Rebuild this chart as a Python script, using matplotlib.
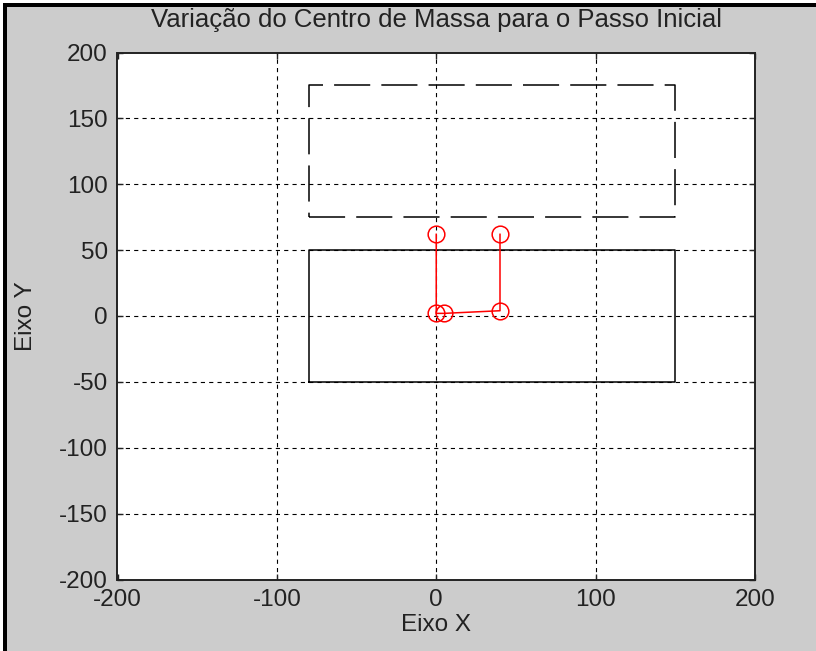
import matplotlib
matplotlib.use("Agg")
import matplotlib.pyplot as plt
from matplotlib.patches import Rectangle

plt.rcParams['font.family'] = ['Liberation Sans', 'DejaVu Sans']
plt.rcParams['lines.scale_dashes'] = False

# Support polygon (solid) and next-step foot region (dashed)
support_x = [-80, 150, 150, -80, -80]
support_y = [-50, -50, 50, 50, -50]
next_x = [-80, 150, 150, -80, -80]
next_y = [75, 75, 175, 175, 75]

# Centre-of-mass trajectory
com_x = [0, 0, 5, 40, 40]
com_y = [62, 2, 2, 4, 62]

x_ticks = [-200, -100, 0, 100, 200]
x_tick_labels = ['-200', '-100', '0', '100', '200']
y_ticks = [-200, -150, -100, -50, 0, 50, 100, 150, 200]
y_tick_labels = ['-200', '-150', '-100', '-50', '0', '50', '100', '150', '200']

W, H, DPI = 816, 651, 100
fig = plt.figure(figsize=(W / DPI, H / DPI), dpi=DPI, facecolor='#CCCCCC')

# window frame on top and left edges
fig.add_artist(Rectangle((0, 0), 3 / W, 1, transform=fig.transFigure,
                         facecolor='white', edgecolor='none', zorder=0))
fig.add_artist(Rectangle((0, 1 - 3 / H), 1, 3 / H, transform=fig.transFigure,
                         facecolor='white', edgecolor='none', zorder=0))
fig.add_artist(Rectangle((3 / W, 0), 4 / W, 1 - 3 / H, transform=fig.transFigure,
                         facecolor='black', edgecolor='none', zorder=1))
fig.add_artist(Rectangle((3 / W, 1 - 7 / H), 1, 4 / H, transform=fig.transFigure,
                         facecolor='black', edgecolor='none', zorder=1))

left, right, top, bottom = 117.5, 755, 52.5, 579.5
ax = fig.add_axes([left / W, 1 - bottom / H, (right - left) / W, (bottom - top) / H])
ax.set_facecolor('white')

ax.set_xlim(-200, 200)
ax.set_ylim(-200, 200)
ax.set_xticks(x_ticks)
ax.set_yticks(y_ticks)
ax.set_xticklabels(x_tick_labels)
ax.set_yticklabels(y_tick_labels)

ax.grid(True, color='black', linestyle=(0, (3, 3)), linewidth=0.8)
ax.set_axisbelow(True)
# grid lines lying on the axes box are hidden by the box itself
for gl in (ax.xaxis.get_gridlines()[0], ax.xaxis.get_gridlines()[-1],
           ax.yaxis.get_gridlines()[0], ax.yaxis.get_gridlines()[-1]):
    gl.set_visible(False)

ax.plot(support_x, support_y, color='black', linewidth=1.1, zorder=3)
ax.plot(next_x, next_y, color='black', linewidth=1.1,
        linestyle=(0, (26, 8)), zorder=3)
ax.plot(com_x, com_y, color='#FF0000', linewidth=1.1, marker='o',
        markersize=12, markerfacecolor='none', markeredgecolor='#FF0000',
        markeredgewidth=1.1, zorder=4)

for s in ax.spines.values():
    s.set_linewidth(1.4)
    s.set_color('#222222')

ax.tick_params(direction='in', length=4, width=1, top=True, right=True,
               labelsize=17.5, colors='#222222', pad=7)

fig.text((left + right) / 2 / W, 1 - 20 / H,
         'Variação do Centro de Massa para o Passo Inicial',
         fontsize=18.5, color='#222222', ha='center', va='center')
ax.set_xlabel('Eixo X', fontsize=17.5, color='#222222', labelpad=2)
ax.set_ylabel('Eixo Y', fontsize=17.5, color='#222222', labelpad=16)

fig.savefig('out.png', dpi=DPI, facecolor=fig.get_facecolor())
